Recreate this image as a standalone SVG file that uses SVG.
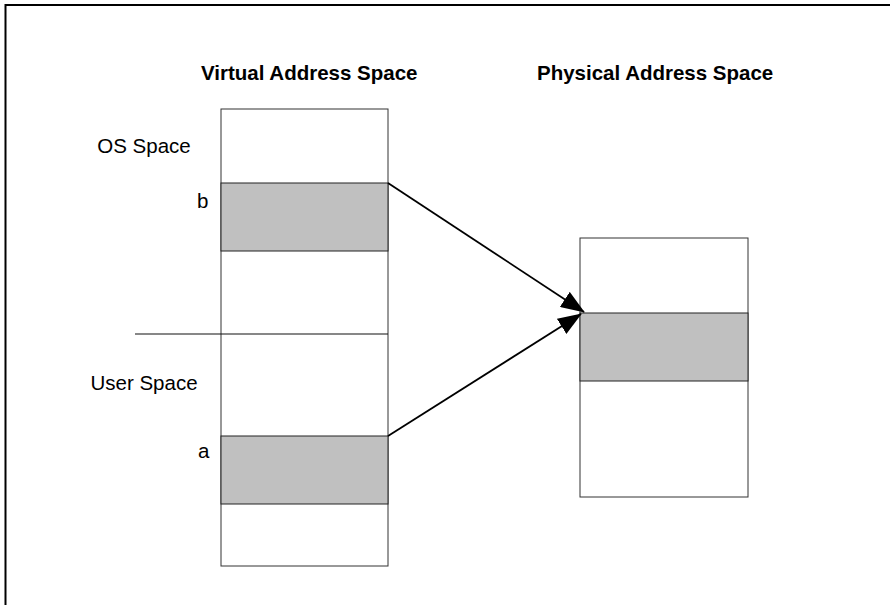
<svg xmlns="http://www.w3.org/2000/svg" width="890" height="605" viewBox="0 0 890 605">
  <style>
    .frame { stroke: #000; stroke-width: 2; fill: none; }
    .box { fill: #fff; stroke: #333; stroke-width: 1; }
    .shade { fill: #c0c0c0; stroke: #222; stroke-width: 1; }
    .sep { stroke: #111; stroke-width: 1.2; }
    .title { font-family: "Liberation Sans", Arial, sans-serif; font-size: 20.5px; font-weight: bold; fill: #000; }
    .label { font-family: "Liberation Sans", Arial, sans-serif; font-size: 20.5px; fill: #000; }
    .mid { text-anchor: middle; }
    .conn { stroke: #000; stroke-width: 1.8; fill: none; }
  </style>
  <defs>
    <marker id="head" viewBox="0 0 24 18" refX="23" refY="9" markerWidth="24" markerHeight="18" markerUnits="userSpaceOnUse" orient="auto">
      <path d="M0,0 L24,9 L0,18 Z" fill="#000"/>
    </marker>
  </defs>
  <rect width="890" height="605" fill="#fff"/>

  <!-- page frame: top and left edges only -->
  <path class="frame" d="M5.5,605 V5 H890"/>

  <!-- column titles -->
  <text class="title" x="201" y="80">Virtual Address Space</text>
  <text class="title" x="537" y="80">Physical Address Space</text>

  <!-- virtual address space column -->
  <g id="virtual-space">
    <rect class="box" x="221" y="109" width="167" height="457"/>
    <rect id="region-b" class="shade" x="221" y="183" width="167" height="68"/>
    <rect id="region-a" class="shade" x="221" y="436" width="167" height="68"/>
    <line class="sep" x1="135" y1="334" x2="388" y2="334"/>
  </g>

  <!-- side labels -->
  <g id="labels">
    <text class="label mid" x="144" y="153">OS Space</text>
    <text class="label" x="197" y="208">b</text>
    <text class="label mid" x="144" y="390">User Space</text>
    <text class="label" x="198" y="458">a</text>
  </g>

  <!-- physical address space column -->
  <g id="physical-space">
    <rect class="box" x="580" y="238" width="168" height="259"/>
    <rect id="frame-shared" class="shade" x="580" y="313" width="168" height="68"/>
  </g>

  <!-- mappings -->
  <g id="connectors">
    <line class="conn" x1="388" y1="183" x2="584" y2="312" marker-end="url(#head)"/>
    <line class="conn" x1="388" y1="436" x2="581" y2="314" marker-end="url(#head)"/>
  </g>
</svg>
